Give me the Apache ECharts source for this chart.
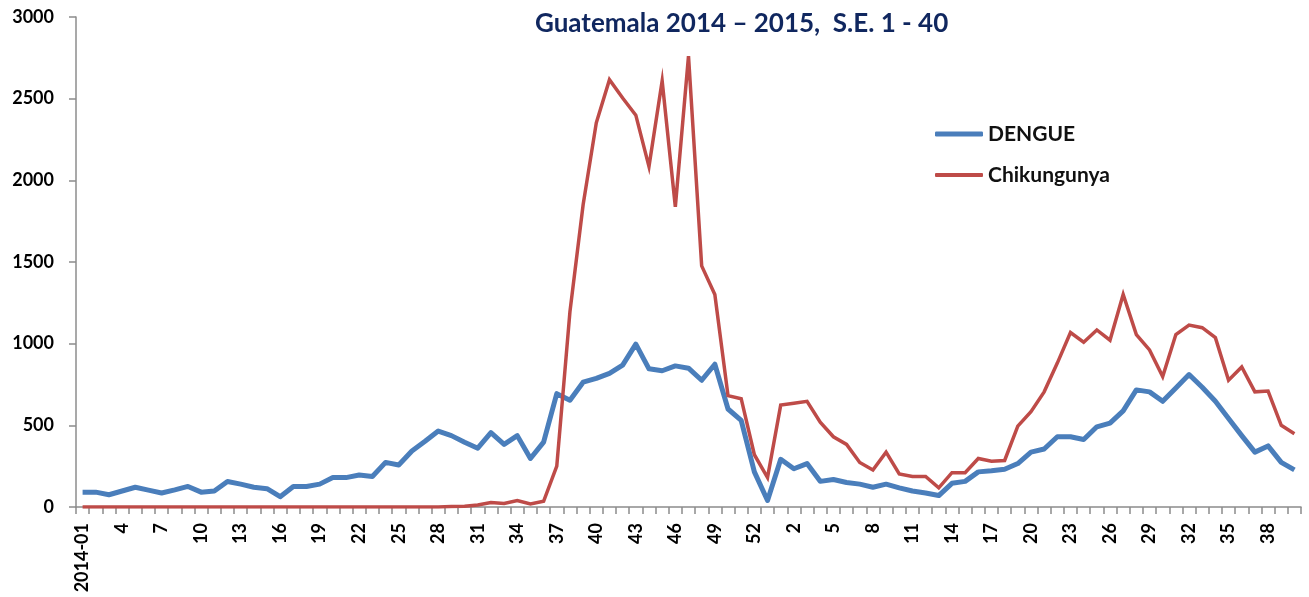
<!DOCTYPE html>
<html>
<head>
<meta charset="utf-8">
<script src="https://cdn.jsdelivr.net/npm/echarts@6/dist/echarts.min.js"></script>
<style>
html,body{margin:0;padding:0;background:#fff;}
#chart{width:1309px;height:597px;}
</style>
</head>
<body>
<div id="chart"></div>
<script>
// Epidemiological weeks: 2014 (53 weeks) then 2015 weeks 1-40
const weeks2014 = ["2014-01","2","3","4","5","6","7","8","9","10","11","12","13","14","15","16","17","18","19","20","21","22","23","24","25","26","27","28","29","30","31","32","33","34","35","36","37","38","39","40","41","42","43","44","45","46","47","48","49","50","51","52","53"];
const weeks2015 = ["1","2","3","4","5","6","7","8","9","10","11","12","13","14","15","16","17","18","19","20","21","22","23","24","25","26","27","28","29","30","31","32","33","34","35","36","37","38","39","40"];
const categories = weeks2014.concat(weeks2015);

const dengue2014 = [91,91,75,98,121,103,86,105,126,91,98,156,140,121,112,63,126,126,140,180,180,196,187,273,257,343,402,465,437,397,360,455,383,437,297,397,694,654,764,787,818,869,997,846,834,864,850,776,874,600,530,215,40];
const dengue2015 = [292,234,266,157,168,150,140,121,140,117,98,86,70,145,157,215,222,231,266,336,355,430,430,413,491,514,589,717,705,647,729,811,733,647,542,437,336,374,273,227];

const chik2014 = [0,0,0,0,0,0,0,0,0,0,0,0,0,0,0,0,0,0,0,0,0,0,0,0,0,0,0,0,3,5,12,28,22,40,18,35,250,1196,1850,2352,2616,2504,2399,2084,2609,1838,2761,1476,1301,682,663,320,180];
const chik2015 = [624,635,647,519,430,383,273,227,336,203,187,187,117,210,210,297,280,285,495,584,705,881,1068,1009,1084,1021,1301,1056,962,799,1056,1114,1098,1037,776,857,705,710,500,449];

const yTicks = [0,500,1000,1500,2000,2500,3000];

const dengue = dengue2014.concat(dengue2015);
const chik = chik2014.concat(chik2015);

const FONT = 'Lato, "Open Sans", sans-serif';
const BLUE = '#4a7ebb', RED = '#be4b48';
const legendText = {color:'#111', fontFamily:FONT, fontWeight:'bold', fontSize:21, lineHeight:22};
const chart = echarts.init(document.getElementById('chart'), null, {renderer:'canvas'});
chart.setOption({
  animation:false,
  backgroundColor:'#ffffff',
  title:{
    text:'Guatemala 2014 \u2013 2015,  S.E. 1 - 40',
    left:530, top:6,
    textStyle:{color:'#10275f', fontFamily:FONT, fontWeight:'bold', fontSize:26}
  },
  legend:[
    {orient:'vertical', left:930, top:118, padding:5,
     icon:'roundRect', itemWidth:48, itemHeight:5,
     textStyle:legendText, data:['DENGUE']},
    {orient:'vertical', left:930, top:159, padding:5,
     icon:'roundRect', itemWidth:48, itemHeight:4,
     textStyle:legendText, data:['Chikungunya']}
  ],
  grid:{left:76, right:8, top:17, bottom:90},
  xAxis:{
    type:'category',
    data:categories,
    boundaryGap:true,
    axisLine:{lineStyle:{color:'#8c8c8c', width:1.5}},
    axisTick:{show:true, interval:0, length:7, lineStyle:{color:'#8c8c8c', width:1.5}},
    axisLabel:{interval:2, rotate:90, margin:16, color:'#000', fontFamily:FONT, fontWeight:'bold', fontSize:18},
    splitLine:{show:false}
  },
  yAxis:{
    type:'value',
    min:yTicks[0], max:yTicks[yTicks.length-1], interval:500,
    axisLine:{show:true, lineStyle:{color:'#8c8c8c', width:1.5}},
    axisTick:{show:true, length:7, lineStyle:{color:'#8c8c8c', width:1.5}},
    axisLabel:{margin:22, color:'#000', fontFamily:FONT, fontWeight:'bold', fontSize:18,
               formatter:function(v){return String(v);}},
    splitLine:{show:false}
  },
  series:[
    {name:'DENGUE', type:'line', data:dengue, symbol:'none',
     lineStyle:{color:BLUE, width:5, join:'round'}, itemStyle:{color:BLUE}},
    {name:'Chikungunya', type:'line', data:chik, symbol:'none',
     lineStyle:{color:RED, width:3.5, join:'miter'}, itemStyle:{color:RED}}
  ]
});
</script>
</body>
</html>
